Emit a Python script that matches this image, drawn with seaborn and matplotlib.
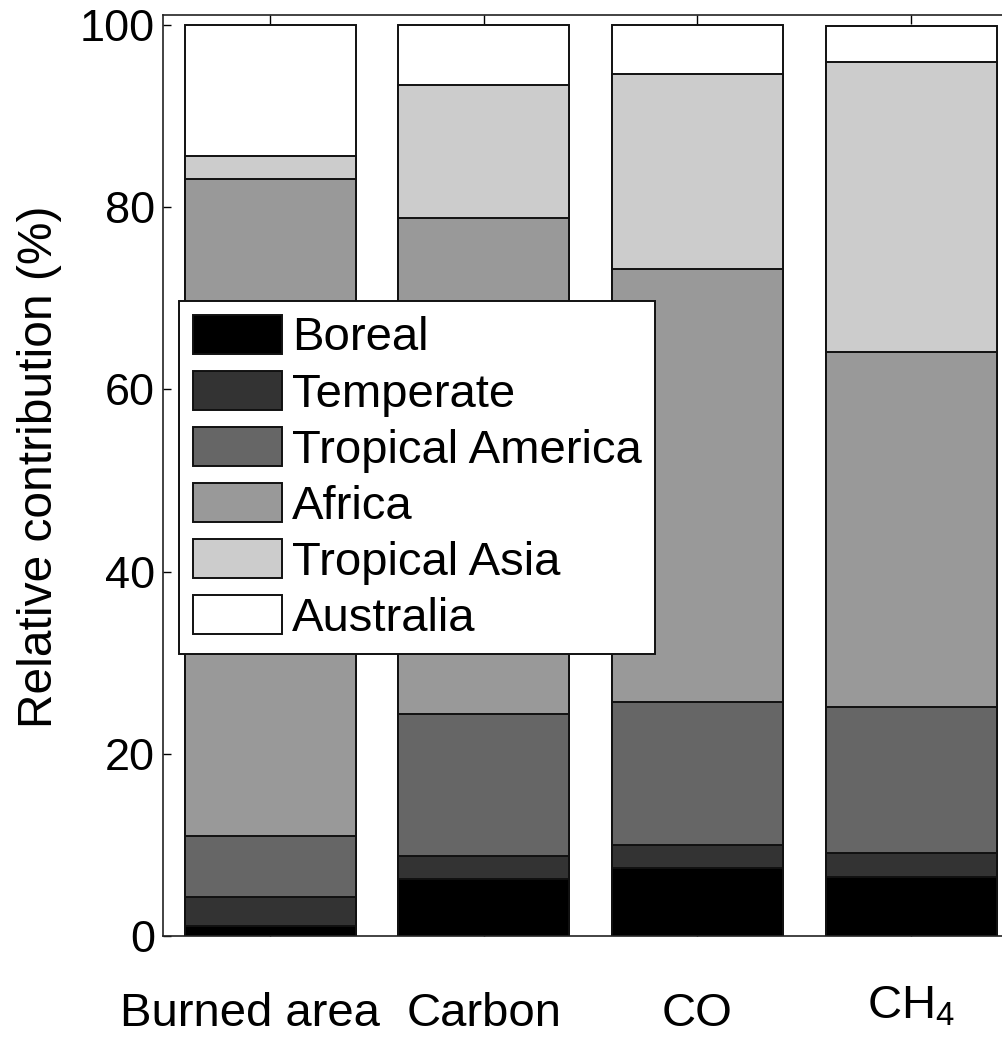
import pandas as pd
import numpy as np
import matplotlib
matplotlib.use("Agg")
import matplotlib.pyplot as plt
from matplotlib.patches import Patch
from matplotlib.transforms import ScaledTranslation
import seaborn as sns

# Données (en %)
categories = ["Burned area", "Carbon", "CO", "CH$_4$"]
regions = ["Boreal", "Temperate", "Tropical America", "Africa", "Tropical Asia", "Australia"]
boreal = [1.1, 6.3, 7.5, 6.5]
temperate = [3.15, 2.5, 2.5, 2.6]
tropical_america = [6.7, 15.6, 15.7, 16.0]
africa = [72.1, 54.4, 47.5, 39.0]
tropical_asia = [2.6, 14.6, 21.4, 31.9]
australia = [14.35, 6.6, 5.4, 3.9]
colors = ["#000000", "#333333", "#666666", "#999999", "#cccccc", "#ffffff"]

series = [boreal, temperate, tropical_america, africa, tropical_asia, australia]
df = pd.DataFrame({r: v for r, v in zip(regions, series)}, index=categories)
cum = df.cumsum(axis=1)

sns.set_style("ticks")
plt.rcParams["font.family"] = ["Liberation Sans", "DejaVu Sans"]
plt.rcParams["mathtext.fontset"] = "custom"
plt.rcParams["mathtext.rm"] = "Liberation Sans"
plt.rcParams["mathtext.default"] = "regular"
for k in ["text.color", "axes.labelcolor", "xtick.color", "ytick.color"]:
    plt.rcParams[k] = "black"

fig = plt.figure(figsize=(10.03, 10.38), dpi=100)
ax = fig.add_axes([0.1627, 0.0983, 0.8522, 0.8872])

# Barres empilées : on trace les cumuls du plus grand au plus petit
for reg, col in zip(regions[::-1], colors[::-1]):
    d = pd.DataFrame({"cat": categories, "val": cum[reg].values})
    sns.barplot(data=d, x="cat", y="val", color=col, saturation=1,
                edgecolor="#111111", linewidth=1.4, errorbar=None, ax=ax)

ax.set_xlim(-0.5, 3.5)
ax.set_ylim(0, 101.1)
ax.set_yticks([0, 20, 40, 60, 80, 100])
ax.set_xlabel("")
ax.set_ylabel("Relative contribution (%)", fontsize=34.5)
ax.yaxis.set_label_coords(-0.1183, 0.509)

for s in ax.spines.values():
    s.set_visible(True)
    s.set_linewidth(1.2)
    s.set_color("#222222")

ax.tick_params(axis="y", direction="in", length=6, width=1.0, labelsize=32.5, pad=6,
               left=True, right=True)
ax.tick_params(axis="x", direction="in", length=6.5, width=1.0, labelsize=34, pad=56,
               top=True, bottom=True)
xlabels = ax.get_xticklabels()
for lbl in xlabels:
    lbl.set_verticalalignment("center")
# petits décalages comme sur l'original
xlabels[0].set_transform(xlabels[0].get_transform() +
                         ScaledTranslation(-0.205, 0, fig.dpi_scale_trans))
xlabels[3].set_transform(xlabels[3].get_transform() +
                         ScaledTranslation(0, 0.07, fig.dpi_scale_trans))

handles = [Patch(facecolor=c, edgecolor="#111111", linewidth=1.4, label=r)
           for r, c in zip(regions, colors)]
leg = ax.legend(handles=handles, loc="upper left",
                bbox_to_anchor=(179.5 / 1003, 1 - 301.5 / 1038),
                bbox_transform=fig.transFigure, fontsize=34, frameon=True,
                fancybox=False, framealpha=1, edgecolor="#111111",
                handlelength=1.885, handleheight=0.89, handletextpad=0.21,
                labelspacing=0.22, borderpad=0.28, borderaxespad=0)
leg.get_frame().set_linewidth(1.4)

plt.savefig("out.png", dpi=100)
